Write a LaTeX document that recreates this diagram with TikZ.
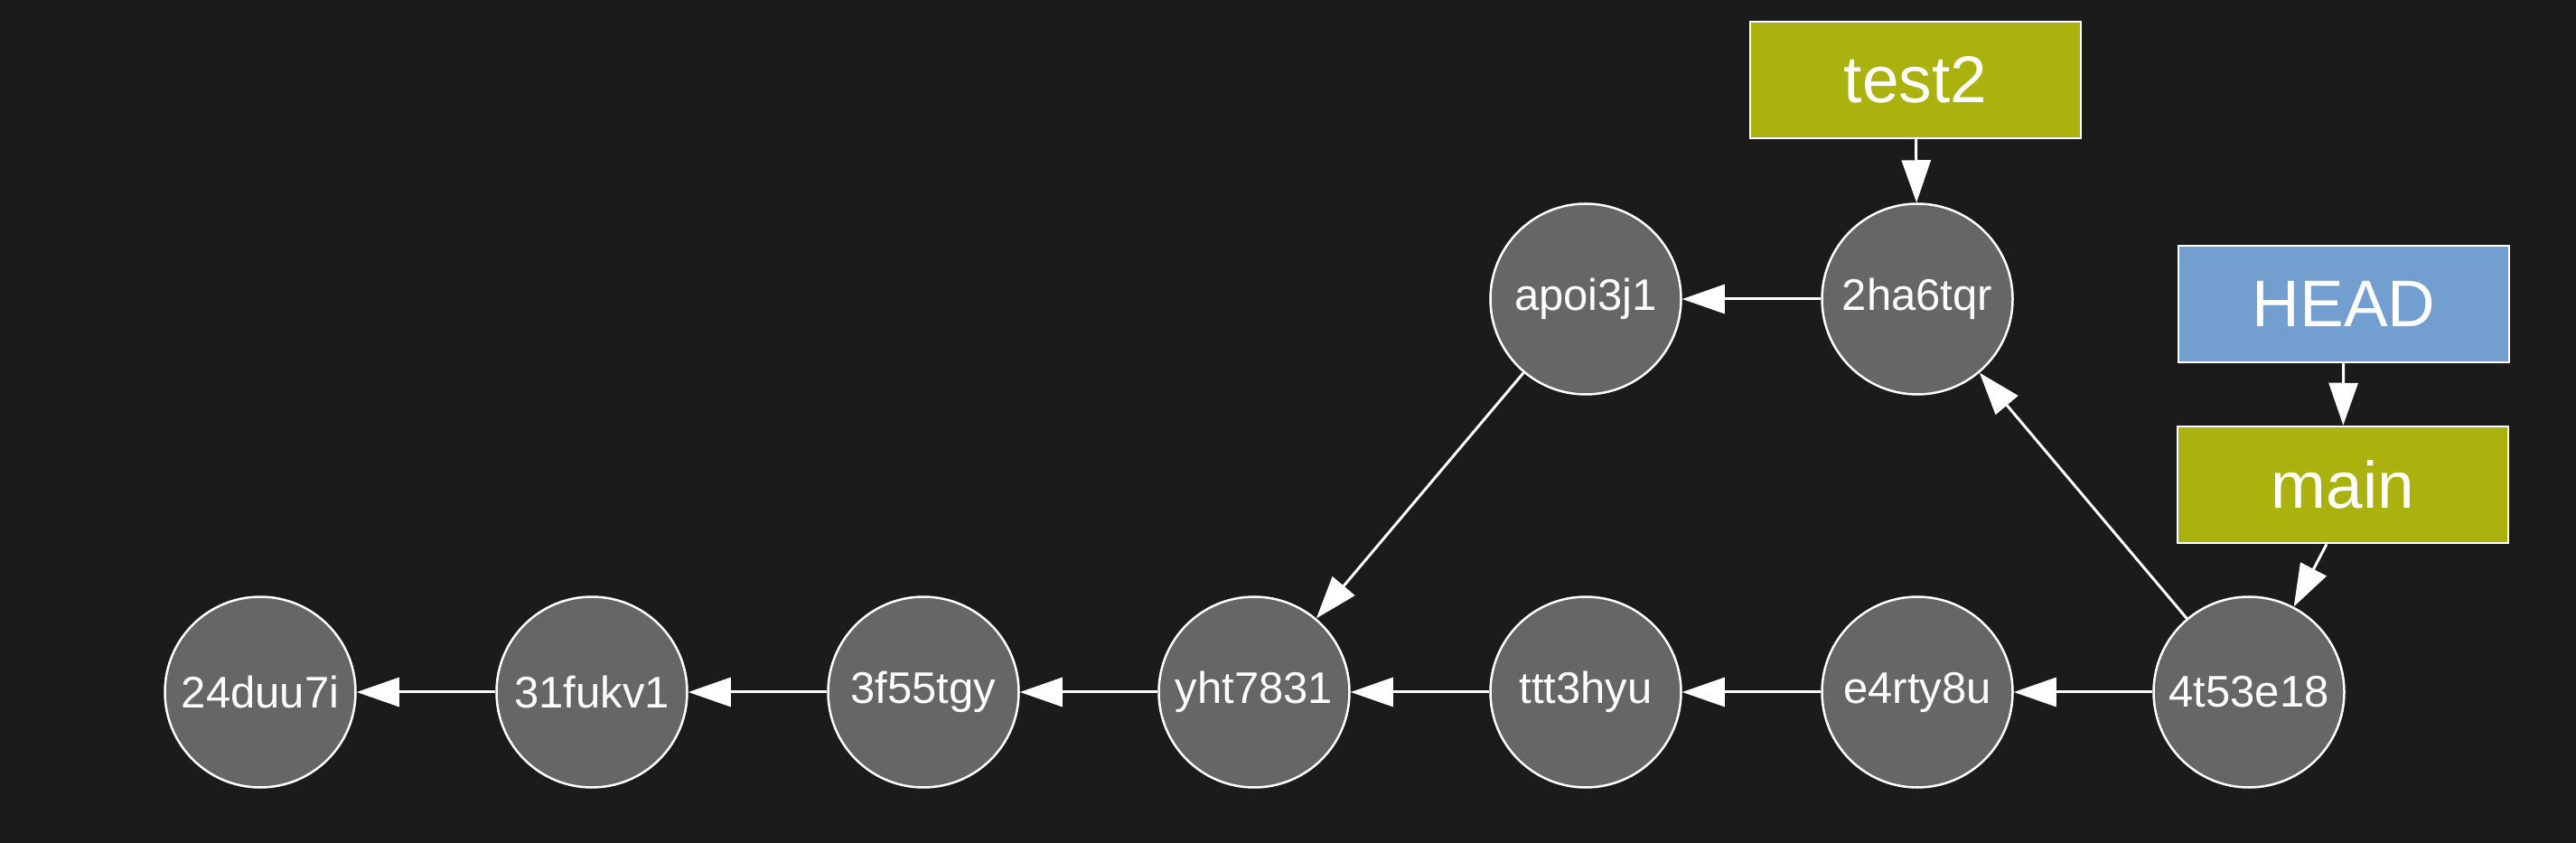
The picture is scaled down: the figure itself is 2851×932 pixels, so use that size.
\documentclass[tikz,border=0pt]{standalone}
\usepackage{fontspec}
\setmainfont{Liberation Sans}
\usetikzlibrary{arrows.meta}
\definecolor{bgc}{HTML}{1B1B1B}
\definecolor{commitc}{HTML}{666666}
\definecolor{branchc}{HTML}{ABB20E}
\definecolor{headc}{HTML}{729FCF}
\tikzset{
  commit/.style={circle, draw=white, line width=2.5pt, fill=commitc, minimum size=211pt, inner sep=0pt, text=white, font=\fontsize{49}{55}\selectfont},
  branchbox/.style={rectangle, draw=white, line width=2.5pt, fill=branchc, minimum width=366pt, minimum height=129pt, inner sep=0pt, text=white, font=\fontsize{73}{80}\selectfont},
  headbox/.style={branchbox, fill=headc},
  arr/.style={draw=white, line width=3pt, -{Triangle[length=47pt,width=32pt]}}
}
\begin{document}
\begin{tikzpicture}[x=1pt,y=1pt]
\useasboundingbox (0,0) rectangle (2851,932);
\fill[bgc] (-10,-10) rectangle (2861,942);
\node[commit] (c1) at (288,166) {24duu7i};
\node[commit] (c2) at (655,166) {31fukv1};
\node[commit] (c3) at (1022,166) {3f55tgy};
\node[commit] (c4) at (1388,166) {yht7831};
\node[commit] (c5) at (1755,166) {ttt3hyu};
\node[commit] (c6) at (2122,166) {e4rty8u};
\node[commit] (c7) at (2489,166) {4t53e18};
\node[commit] (a1) at (1755,601) {apoi3j1};
\node[commit] (a2) at (2122,601) {2ha6tqr};
\node[branchbox] (test2) at (2120,843.5) {test2};
\node[headbox] (head) at (2594,595.5) {HEAD};
\node[branchbox] (main) at (2593,395.5) {main};
\draw[arr] (c2) -- (c1);
\draw[arr] (c3) -- (c2);
\draw[arr] (c4) -- (c3);
\draw[arr] (c5) -- (c4);
\draw[arr] (c6) -- (c5);
\draw[arr] (c7) -- (c6);
\draw[arr] (a1) -- (c4);
\draw[arr] (a2) -- (a1);
\draw[arr] (c7) -- (a2);
\draw[arr] (test2) -- (a2);
\draw[arr] (head) -- (main);
\draw[arr] ([xshift=-18pt]main.south) -- (c7);
\end{tikzpicture}
\end{document}
